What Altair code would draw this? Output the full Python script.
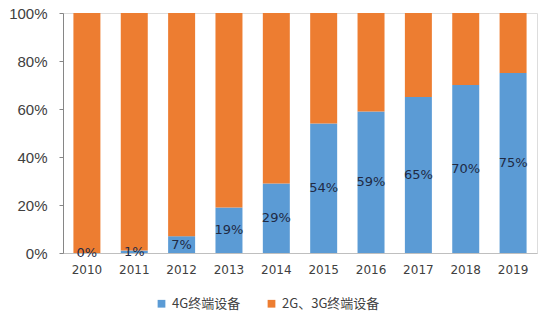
import altair as alt
import pandas as pd

years = ["2010", "2011", "2012", "2013", "2014", "2015", "2016", "2017", "2018", "2019"]
share_4g = [0, 1, 7, 19, 29, 54, 59, 65, 70, 75]
series = ["4G终端设备", "2G、3G终端设备"]
colors = ["#5b9bd5", "#ed7d31"]

rows = []
for y, v in zip(years, share_4g):
    rows.append({"year": y, "series": series[0], "value": v / 100, "ord": 0})
    rows.append({"year": y, "series": series[1], "value": (100 - v) / 100, "ord": 1})
df = pd.DataFrame(rows)
lab = pd.DataFrame({"year": years, "v": [v / 100 for v in share_4g],
                    "mid": [v / 200 for v in share_4g],
                    "txt": [f"{v}%" for v in share_4g]})

x = alt.X("year:N", title=None, sort=years,
          scale=alt.Scale(paddingInner=0.43, paddingOuter=0.22),
          axis=alt.Axis(labelAngle=0, ticks=False, domainColor="#bfbfbf",
                        labelFont="DejaVu Sans", labelFontSize=12, labelColor="#404040",
                        labelPadding=11))

bars = alt.Chart(df).mark_bar().encode(
    x=x,
    y=alt.Y("value:Q", stack="zero", title=None,
            scale=alt.Scale(domain=[0, 1]),
            axis=alt.Axis(format=".0%", values=[0, 0.2, 0.4, 0.6, 0.8, 1.0], grid=False,
                          tickSize=4, tickColor="#868686", domainColor="#868686",
                          labelFont="Liberation Sans", labelFontSize=15, labelColor="#404040",
                          labelPadding=12)),
    color=alt.Color("series:N", sort=series,
                    scale=alt.Scale(domain=series, range=colors),
                    legend=alt.Legend(title=None, orient="none", direction="horizontal",
                                      legendX=92, legendY=284, symbolType="square",
                                      symbolSize=60, symbolStrokeWidth=0,
                                      labelFont="Noto Sans CJK SC", labelFontSize=13,
                                      labelColor="#404040", columnPadding=24)),
    order=alt.Order("ord:Q"),
)

text = alt.Chart(lab).mark_text(font="DejaVu Sans", fontSize=13, color="#1f2a44",
                                baseline="middle").encode(
    x=alt.X("year:N", sort=years),
    y=alt.Y("mid:Q"),
    text="txt:N",
)

chart = (bars + text).properties(
    width=474, height=240,
    autosize=alt.AutoSizeParams(type="none"),
    padding={"left": 63, "top": 13, "right": 17, "bottom": 70},
).configure_view(stroke=None).configure(background="white")

chart.save("out.html", embed_options={"renderer": "svg", "actions": False})
